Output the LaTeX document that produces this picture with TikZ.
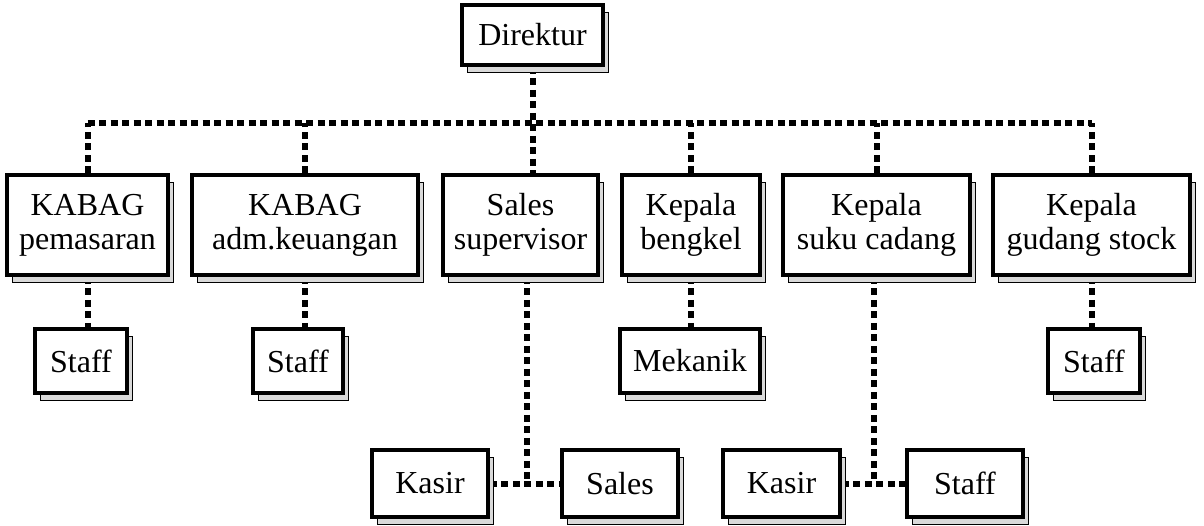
\documentclass[tikz,border=0pt]{standalone}
\usepackage{fontspec}
\setmainfont{Liberation Serif}
\usetikzlibrary{shadows,backgrounds}

\tikzset{
  orgbox/.style={draw=black, line width=3.8pt, fill=white, inner sep=0pt,
    align=center, font=\fontsize{32}{34}\selectfont,
    general shadow={fill=gray!30, draw=black, line width=0.9pt,
      shadow xshift=5pt, shadow yshift=-7pt}},
  conn/.style={line width=6pt, dash pattern=on 7pt off 4.5pt}
}

\begin{document}
\begin{tikzpicture}[x=1pt, y=-1pt]
  \useasboundingbox (0,0) rectangle (1204,525);

  % top
  \node[orgbox, minimum width=141pt, minimum height=60pt] (dir) at (532.5,35) {Direktur};

  % heads of department
  \node[orgbox, minimum width=161pt, minimum height=100pt] (k1)  at (87.5,225)  {KABAG\\pemasaran};
  \node[orgbox, minimum width=226pt, minimum height=100pt] (k2)  at (305,225)   {KABAG\\adm.keuangan};
  \node[orgbox, minimum width=155pt, minimum height=100pt] (ss)  at (520.5,225) {Sales\\supervisor};
  \node[orgbox, minimum width=138pt, minimum height=100pt] (kb)  at (691,225)   {Kepala\\bengkel};
  \node[orgbox, minimum width=187pt, minimum height=100pt] (ksc) at (876.5,225) {Kepala\\suku cadang};
  \node[orgbox, minimum width=197pt, minimum height=100pt] (kgs) at (1091.5,225) {Kepala\\gudang stock};

  % staff level
  \node[orgbox, minimum width=92pt,  minimum height=64pt] (s1)  at (81,361)   {Staff};
  \node[orgbox, minimum width=90pt,  minimum height=64pt] (s2)  at (298,361)  {Staff};
  \node[orgbox, minimum width=140pt, minimum height=64pt] (mek) at (690,361)  {Mekanik};
  \node[orgbox, minimum width=92pt,  minimum height=64pt] (s4)  at (1094,361) {Staff};

  % bottom level
  \node[orgbox, minimum width=116pt, minimum height=67pt] (kas1) at (430,483.5)   {Kasir};
  \node[orgbox, minimum width=116pt, minimum height=67pt] (sal)  at (620,483.5)   {Sales};
  \node[orgbox, minimum width=117pt, minimum height=67pt] (kas2) at (781.5,483.5) {Kasir};
  \node[orgbox, minimum width=116pt, minimum height=67pt] (stf)  at (965,483.5)   {Staff};

  \coordinate (bus) at (0,123);
  \coordinate (ssdrop) at (527,483.5);
  \coordinate (kscdrop) at (874,483.5);

  \begin{scope}[on background layer]
    % main bus
    \draw[conn] (k1.north |- bus) -- (kgs.north |- bus);
    \draw[conn] (dir.south) -- (dir.south |- ss.north);
    \foreach \n in {k1,k2,kb,ksc,kgs}
      \draw[conn] (\n.north) -- (\n.north |- bus);
    % department staff
    \draw[conn] (k1.south) -- (k1.south |- s1.north);
    \draw[conn] (k2.south) -- (k2.south |- s2.north);
    \draw[conn] (kb.south) -- (kb.south |- mek.north);
    \draw[conn] (kgs.south) -- (kgs.south |- s4.north);
    % sales supervisor branch
    \draw[conn] (ss.south -| ssdrop) -- (ssdrop);
    \draw[conn] (kas1.east) -- (sal.west);
    % spare parts branch
    \draw[conn] (ksc.south -| kscdrop) -- (kscdrop);
    \draw[conn] (kas2.east) -- (stf.west);
  \end{scope}
\end{tikzpicture}
\end{document}
